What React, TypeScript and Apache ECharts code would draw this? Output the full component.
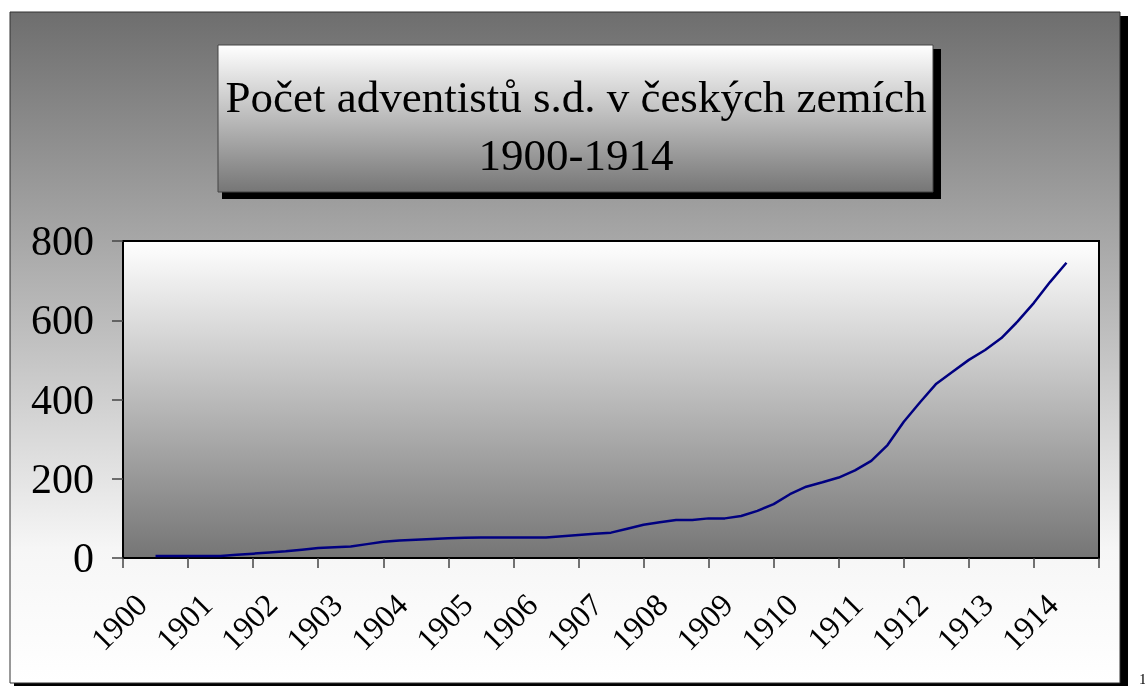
import React, { useEffect, useRef } from "react";
import * as echarts from "echarts";

const years = ["1900", "1901", "1902", "1903", "1904", "1905", "1906", "1907", "1908", "1909", "1910", "1911", "1912", "1913", "1914"];

// quarterly observation points (fractional years)
const quarterDates = [
  1900, 1900.25, 1900.5, 1900.75,
  1901, 1901.25, 1901.5, 1901.75,
  1902, 1902.25, 1902.5, 1902.75,
  1903, 1903.25, 1903.5, 1903.75,
  1904, 1904.25, 1904.5, 1904.75,
  1905, 1905.25, 1905.5, 1905.75,
  1906, 1906.25, 1906.5, 1906.75,
  1907, 1907.25, 1907.5, 1907.75,
  1908, 1908.25, 1908.5, 1908.75,
  1909, 1909.25, 1909.5, 1909.75,
  1910, 1910.25, 1910.5, 1910.75,
  1911, 1911.25, 1911.5, 1911.75,
  1912, 1912.25, 1912.5, 1912.75,
  1913, 1913.25, 1913.5, 1913.75,
  1914,
];

const members = [
  5, 5, 5, 5,
  5, 8, 11, 14,
  17, 21, 25, 27,
  29, 35, 41, 44,
  46, 48, 50, 51,
  52, 52, 52, 52,
  52, 55, 58, 61,
  64, 74, 84, 90,
  96, 96, 100, 100,
  106, 119, 136, 161,
  180, 191, 203, 221,
  245, 285, 344, 393,
  440, 470, 500, 525,
  555, 597, 644, 697,
  745,
];

const titleLines = ["Počet adventistů s.d. v českých zemích", "1900-1914"];
const yTicks = { min: 0, max: 800, interval: 200 };

const SERIF = "'Liberation Serif', 'Times New Roman', serif";

export default function App() {
  const ref = useRef<HTMLDivElement>(null);
  useEffect(() => {
    if (!ref.current) return;
    const chart = echarts.init(ref.current, null, { renderer: "svg" });
    const lineData = quarterDates.map((d, i) => [d, members[i]]);
    chart.setOption({
      animation: false,
      graphic: [
        // outer frame shadow
        { type: "rect", z: -10, shape: { x: 14, y: 16, width: 1114, height: 672 }, style: { fill: "#000" }, silent: true },
        {
          type: "rect", z: -9,
          shape: { x: 10, y: 12, width: 1110, height: 671 },
          style: {
            fill: new echarts.graphic.LinearGradient(0, 0, 0, 1, [
              { offset: 0, color: "#6e6e6e" },
              { offset: 0.5, color: "#c2c2c2" },
              { offset: 0.8, color: "#f6f6f6" },
              { offset: 1, color: "#ffffff" },
            ]),
            stroke: "#333",
            lineWidth: 1,
          },
          silent: true,
        },
        // title box shadow
        { type: "rect", z: -8, shape: { x: 222, y: 49, width: 719, height: 150 }, style: { fill: "#000" }, silent: true },
        {
          type: "rect", z: -7,
          shape: { x: 218, y: 45, width: 715, height: 147 },
          style: {
            fill: new echarts.graphic.LinearGradient(0, 0, 0, 1, [
              { offset: 0, color: "#ffffff" },
              { offset: 1, color: "#767676" },
            ]),
            stroke: "#444",
            lineWidth: 1,
          },
          silent: true,
        },
        {
          type: "text", z: 10,
          x: 576, y: 68,
          style: {
            text: titleLines.join("\n"),
            font: `45px ${SERIF}`,
            fill: "#000",
            align: "center",
            verticalAlign: "top",
            lineHeight: 58,
          },
        },
        {
          type: "text", z: 10,
          x: 1139, y: 671,
          style: { text: "1", font: `15px ${SERIF}`, fill: "#000", align: "left", verticalAlign: "top" },
        },
      ],
      grid: {
        left: 123, top: 241, right: 46, bottom: 128,
        show: true,
        borderColor: "#000",
        borderWidth: 2,
        backgroundColor: new echarts.graphic.LinearGradient(0, 0, 0, 1, [
          { offset: 0, color: "#ffffff" },
          { offset: 1, color: "#757575" },
        ]),
      },
      xAxis: [
        {
          type: "category",
          data: years,
          boundaryGap: true,
          axisLine: { lineStyle: { color: "#000", width: 2 } },
          axisTick: { show: true, interval: 0, length: 10, lineStyle: { color: "#444", width: 1.5 } },
          axisLabel: {
            interval: 0,
            rotate: 45,
            margin: 27,
            padding: [0, 20, 0, 0],
            fontSize: 32,
            fontFamily: SERIF,
            color: "#000",
          },
          splitLine: { show: false },
        },
        {
          type: "value",
          min: 1899.5,
          max: 1914.5,
          show: false,
          position: "bottom",
          splitLine: { show: false },
        },
      ],
      yAxis: {
        type: "value",
        min: yTicks.min,
        max: yTicks.max,
        interval: yTicks.interval,
        axisLine: { show: true, lineStyle: { color: "#000", width: 2 } },
        axisTick: { show: true, length: 11, lineStyle: { color: "#444", width: 1.5 } },
        axisLabel: { fontSize: 42, fontFamily: SERIF, color: "#000", margin: 29 },
        splitLine: { show: false },
      },
      series: [
        {
          type: "line",
          xAxisIndex: 1,
          data: lineData,
          showSymbol: false,
          symbol: "none",
          lineStyle: { color: "#000080", width: 2.5 },
        },
      ],
    });
    return () => chart.dispose();
  }, []);
  return <div ref={ref} style={{ position: "fixed", left: 0, top: 0, width: 1145, height: 686 }} />;
}
